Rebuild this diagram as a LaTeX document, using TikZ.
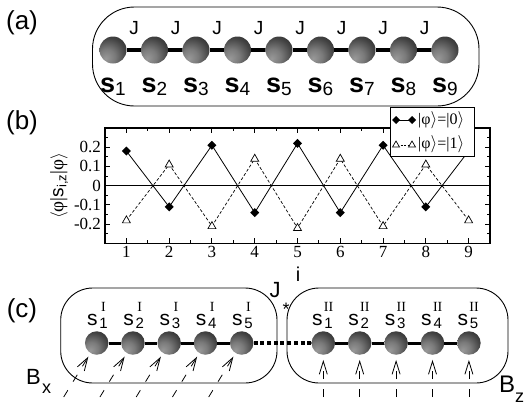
\documentclass[tikz,border=0pt]{standalone}
\usepackage{fontspec}
\setmainfont{Liberation Serif}
\setsansfont{Liberation Sans}
\usetikzlibrary{arrows.meta}
\pgfdeclareradialshading{ballshade}{\pgfpoint{-14bp}{-16bp}}{color(0bp)=(black!40); color(15bp)=(black!52); color(32bp)=(black!74); color(48bp)=(black!87); color(80bp)=(black!92)}
\newcommand{\fs}[1]{\fontsize{#1}{#1}\selectfont}
\newcommand{\slab}[2]{{\fs{21}s}\kern1.5pt\raisebox{-3pt}{\fs{15}\makebox[9pt][c]{#1}}\kern-9pt\raisebox{13.5pt}{\fs{14}\rmfamily\makebox[9pt][c]{#2}}}
\begin{document}
\begin{tikzpicture}[x=1pt,y=-1pt,font=\sffamily,
  ballA/.style={circle,minimum size=27pt,inner sep=0pt,shade,shading=ballshade},
  ballC/.style={circle,minimum size=23.5pt,inner sep=0pt,shade,shading=ballshade},
  bondA/.style={line width=3.5pt},
  bondC/.style={line width=3pt},
  boxline/.style={line width=0.9pt},
  plotaxis/.style={line width=1.2pt},
  fieldarrow/.style={line width=0.8pt,dash pattern=on 8pt off 10pt,
     -{Straight Barb[length=13pt,width=8pt,line width=0.8pt]}},
  dmark/.style={fill=black,draw=none},
  tmark/.style={draw=black,fill=white,line width=0.7pt},
  ticklab/.style={font=\rmfamily\fs{17},inner sep=0pt},
  panel/.style={font=\sffamily\fs{26},inner sep=0pt}]
\useasboundingbox (0,0) rectangle (524,405);

% ---------------- (a)
\node[panel] (pa) at (22,22.5) {(a)};
\draw[boxline, rounded corners=42pt] (92.5,7) rectangle (479,106);
\foreach \k in {1,...,9}{
  \node[ballA] (a\k) at ({113+41.5*(\k-1)},50) {};
  \node[anchor=base,inner sep=0pt] (sa\k) at ({113+41.5*(\k-1)},92) {{\bfseries\fs{27}s}\raisebox{-3.5pt}{\fs{19}\k}};
}
\foreach \k in {1,...,8}{
  \pgfmathtruncatemacro{\n}{\k+1}
  \draw[bondA] (a\k) -- (a\n);
  \node[anchor=base,inner sep=0pt,font=\sffamily\fs{19}] (ja\k) at ({134.2+41.5*(\k-1)},34.5) {J};
}

% ---------------- (b)
\node[panel] (pb) at (22,123) {(b)};
\begin{scope}[shift={(83.6,185.7)},x=42.78pt,y=192.5pt]
  \draw[line width=0.8pt] (0.5,0) -- (9.5,0);
  \foreach \i in {1,...,9}{
    \draw[line width=1pt] (\i,-0.3) -- ++(0,5pt);
    \draw[line width=1pt] (\i,0.3) -- ++(0,-5pt);
    \node[ticklab,anchor=base] (xt\i) at (\i,-0.375) {\i};
  }
  \foreach \i in {1.5,2.5,...,8.5}{
    \draw[line width=1pt] (\i,-0.3) -- ++(0,3pt);
    \draw[line width=1pt] (\i,0.3) -- ++(0,-3pt);
  }
  \foreach \v/\t in {-0.2/-0.2,-0.1/-0.1,0/0,0.1/0.1,0.2/0.2}{
    \draw[line width=1pt] (0.5,\v) -- ++(5pt,0);
    \draw[line width=1pt] (9.5,\v) -- ++(-5pt,0);
    \node[ticklab,anchor=east] (yt\t) at (0.41,\v) {\t};
  }
  \foreach \v in {-0.25,-0.15,-0.05,0.05,0.15,0.25}{
    \draw[line width=1pt] (0.5,\v) -- ++(3pt,0);
    \draw[line width=1pt] (9.5,\v) -- ++(-3pt,0);
  }
  \draw[line width=0.8pt] (1,0.18) -- (2,-0.11) -- (3,0.21) -- (4,-0.14) -- (5,0.22) -- (6,-0.14) -- (7,0.21) -- (8,-0.11) -- (9,0.18);
  \draw[line width=0.7pt,dash pattern=on 3pt off 2pt] (1,-0.18) -- (2,0.11) -- (3,-0.21) -- (4,0.14) -- (5,-0.22) -- (6,0.14) -- (7,-0.21) -- (8,0.11) -- (9,-0.18);
  \foreach \i/\v in {1/0.18,2/-0.11,3/0.21,4/-0.14,5/0.22,6/-0.14,7/0.21,8/-0.11,9/0.18}{
    \fill[dmark] (\i,\v) ++(0,4.5pt) -- ++(4.5pt,-4.5pt) -- ++(-4.5pt,-4.5pt) -- ++(-4.5pt,4.5pt) -- cycle;
  }
  \foreach \i/\v in {1/-0.18,2/0.11,3/-0.21,4/0.14,5/-0.22,6/0.14,7/-0.21,8/0.11,9/-0.18}{
    \draw[tmark] (\i,\v) ++(0,4.5pt) -- ++(4pt,-7pt) -- ++(-8pt,0) -- cycle;
  }
  \draw[plotaxis] (0.5,-0.3) rectangle (9.5,0.3);
\end{scope}
% legend
\draw[line width=0.9pt,fill=white] (390,107) rectangle (474,156);
\draw[line width=0.8pt] (396,120) -- (412,120);
\fill (396,116) -- (400,120) -- (396,124) -- (392,120) -- cycle;
\fill (412,116) -- (416,120) -- (412,124) -- (408,120) -- cycle;
\draw[line width=0.7pt,dash pattern=on 2pt off 1.5pt] (397,145) -- (411,145);
\draw[tmark] (396,141) -- (399.5,147) -- (392.5,147) -- cycle;
\draw[tmark] (412,141) -- (415.5,147) -- (408.5,147) -- cycle;
\node[anchor=west,inner sep=0pt,font=\rmfamily\fs{16}] (lg0) at (418,120) {|φ$\rangle$=|0$\rangle$};
\node[anchor=west,inner sep=0pt,font=\rmfamily\fs{16}] (lg1) at (418,144) {|φ$\rangle$=|1$\rangle$};
% axis labels
\node[rotate=90,inner sep=0pt,font=\rmfamily\fs{19}] (ylab) at (59,186) {$\langle$φ|{\sffamily s}\raisebox{-3pt}{\sffamily\fs{13}i,z}|φ$\rangle$};
\node[anchor=base,inner sep=0pt,font=\sffamily\fs{20}] (xlab) at (298,281) {i};

% ---------------- (c)
\node[panel] (pc) at (22,310.5) {(c)};
\draw[boxline, rounded corners=32pt] (60.7,288) rectangle (277,383);
\draw[boxline, rounded corners=32pt] (287,288) rectangle (508,383);
\foreach \k/\r in {1/I,2/I,3/I,4/I,5/I}{
  \node[ballC] (l\k) at ({96.7+36.25*(\k-1)},343) {};
  \node[anchor=base,inner sep=0pt] (sl\k) at ({97.5+36.25*(\k-1)},325) {\slab{\k}{\r}};
  \node[ballC] (r\k) at ({323.3+36.4*(\k-1)},343) {};
  \node[anchor=base,inner sep=0pt] (sr\k) at ({322.5+36.4*(\k-1)},325) {\slab{\k}{II}};
  \coordinate (tl\k) at ({96.7+36.25*(\k-1)-33},397);
  \coordinate (tr\k) at ({323.3+36.4*(\k-1)},397);
  \draw[fieldarrow,shorten >=4pt] (tl\k) -- (l\k);
  \draw[fieldarrow,shorten >=5pt] (tr\k) -- (r\k);
}
\foreach \k in {1,...,4}{
  \pgfmathtruncatemacro{\n}{\k+1}
  \draw[bondC] (l\k) -- (l\n);
  \draw[bondC] (r\k) -- (r\n);
}
\draw[line width=3.5pt,dash pattern=on 4pt off 2.7pt] (l5) -- (r1);
\node[anchor=base,inner sep=0pt,font=\sffamily\fs{22}] (jc) at (275,297) {J};
\node[inner sep=0pt,font=\sffamily\fs{18}] (jstar) at (286,309) {*};
\node[anchor=base west,inner sep=0pt,font=\sffamily\fs{22}] (bx) at (26,384) {B};
\node[anchor=base west,inner sep=0pt,font=\sffamily\fs{18}] (bxs) at (42,393) {x};
\node[anchor=base west,inner sep=0pt,font=\sffamily\fs{24}] (bz) at (499,392) {B};
\node[anchor=base west,inner sep=0pt,font=\sffamily\fs{18}] (bzs) at (515,402) {z};
\end{tikzpicture}
\end{document}
